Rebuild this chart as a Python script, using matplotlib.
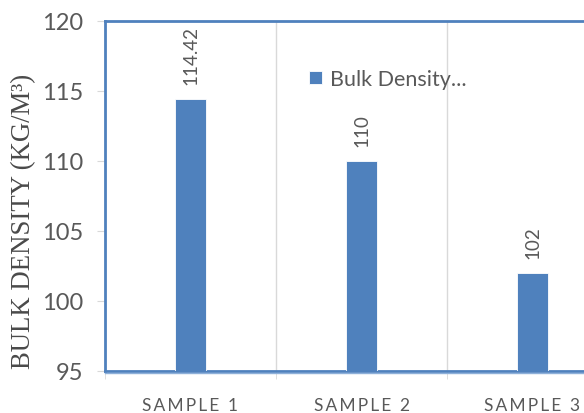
import matplotlib.pyplot as plt
import numpy as np

samples = ['SAMPLE 1', 'SAMPLE 2', 'SAMPLE 3']
bulk_density = [114.42, 110, 102]
value_labels = ['114.42', '110', '102']
y_ticks = [95, 100, 105, 110, 115, 120]

bar_color = '#4F81BD'
text_color = '#595959'
grid_color = '#D9D9D9'

fig = plt.figure(figsize=(5.84, 4.14), dpi=100)
# plot area runs past the right edge of the figure
ax = fig.add_axes([105 / 584, 42 / 414, 513 / 584, 350 / 414])

x = np.arange(len(samples))
bars = ax.bar(x, bulk_density, width=0.18, color=bar_color, edgecolor='white',
              linewidth=0.6, label='Bulk Density...', zorder=3)

for rect, txt in zip(bars, value_labels):
    ax.annotate(txt, (rect.get_x() + rect.get_width() / 2, rect.get_height()),
                xytext=(0, 11), textcoords='offset points', rotation=90,
                ha='center', va='bottom', fontsize=13.5, color=text_color,
                family='Lato')

ax.set_xlim(-0.5, 2.5)
ax.set_ylim(95, 120)
ax.set_yticks(y_ticks)
ax.set_yticklabels([str(t) for t in y_ticks], family='Lato', fontsize=17,
                   color=text_color)
ax.tick_params(axis='y', length=6, color=grid_color, pad=10)

# category separators as vertical gridlines
ax.set_xticks(x)
ax.set_xticklabels(['\u2009'.join(s) for s in samples], family='Lato',
                   fontsize=12.5, color=text_color)
ax.tick_params(axis='x', which='major', length=0, pad=18.5)
ax.set_xticks([-0.5, 0.5, 1.5], minor=True)
ax.tick_params(axis='x', which='minor', length=6, color=grid_color)
ax.grid(True, axis='x', which='minor', color=grid_color, linewidth=1, zorder=0)

for side in ['top', 'left', 'bottom', 'right']:
    ax.spines[side].set_color(bar_color)
    ax.spines[side].set_linewidth(2)
# second, lighter rule just under the baseline
ax.plot([0, 1], [-0.007, -0.007], transform=ax.transAxes, color='#8EB0D9',
        linewidth=1, clip_on=False, zorder=4)

ax.set_ylabel('BULK DENSITY (KG/M\u00b3)', family='Liberation Serif',
              fontsize=19.3, color='#4A4A4A', va='center')
ax.yaxis.set_label_coords(-0.158, 0.43)

ax.legend(loc='center left', bbox_to_anchor=(0.36, 0.834), frameon=False,
          handlelength=0.6, handleheight=0.6, handletextpad=0.35,
          prop={'family': 'Lato', 'size': 15.5}, labelcolor=text_color)

fig.savefig('out.png', dpi=100)
